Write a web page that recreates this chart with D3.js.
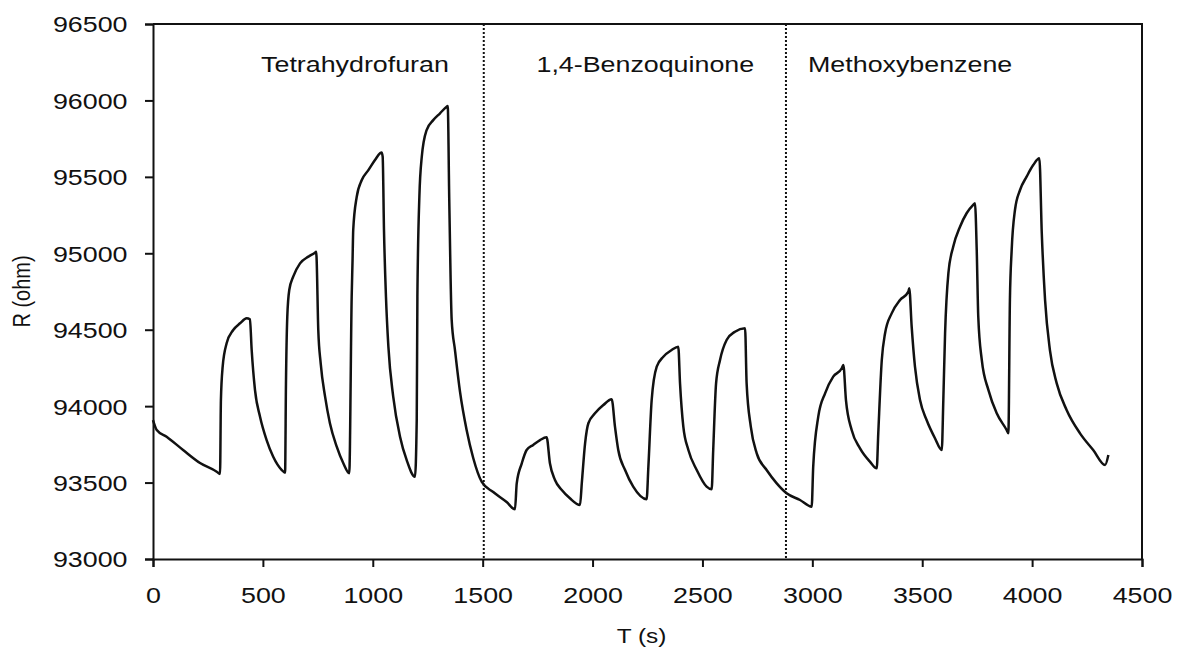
<!DOCTYPE html>
<html>
<head>
<meta charset="utf-8">
<script src="https://cdn.jsdelivr.net/npm/d3@7"></script>
<style>
  body { margin: 0; background: #fff; }
  text { font-family: "Liberation Sans", Arial, sans-serif; fill: #111; }
</style>
</head>
<body>
<svg id="chart" width="1177" height="649"></svg>
<script>
// Sensor response: resistance (ohm) against time (s)
const timeS = [
  0, 17, 62, 137, 214, 290, 305,
  309, 317, 335, 365, 396, 426, 441,
  449, 464, 487, 517, 547, 586, 601,
  605, 611, 620, 638, 669, 707, 737, 742,
  744, 752, 763, 783, 805, 836, 866, 893,
  904, 908, 911, 927, 950, 980, 1010, 1033, 1040,
  1045, 1051, 1060, 1071, 1093, 1124, 1154, 1192,
  1200, 1203, 1212, 1223, 1245, 1275, 1306, 1336, 1341,
  1348, 1359, 1374, 1397, 1427, 1457, 1496, 1548, 1609, 1647,
  1655, 1678, 1700, 1730, 1761, 1791,
  1806, 1829, 1860, 1897, 1943,
  1951, 1966, 1981, 2011, 2049, 2087,
  2102, 2117, 2148, 2185, 2246,
  2254, 2269, 2292, 2322, 2360, 2390,
  2398, 2413, 2436, 2474, 2519, 2542,
  2549, 2562, 2580, 2610, 2648, 2694,
  2701, 2720, 2747, 2792, 2838, 2883, 2944, 2997,
  3004, 3027, 3058, 3095, 3134, 3141,
  3153, 3179, 3217, 3262, 3293,
  3300, 3316, 3331, 3361, 3399, 3437, 3441,
  3452, 3467, 3490, 3520, 3558, 3589,
  3596, 3604, 3619, 3641, 3672, 3702, 3732, 3740,
  3748, 3755, 3771, 3801, 3839, 3884, 3892,
  3899, 3907, 3922, 3945, 3975, 4005, 4033,
  4044, 4059, 4081, 4112, 4157, 4218, 4278, 4332, 4347
];
const resistanceOhm = [
  93909, 93844, 93800, 93713, 93628, 93571, 93556,
  94040, 94258, 94411, 94498, 94542, 94575, 94568,
  94367, 94106, 93931, 93778, 93669, 93582, 93565,
  94149, 94585, 94760, 94847, 94934, 94978, 95004, 95010,
  94978, 94498, 94280, 94062, 93888, 93735, 93626, 93561,
  94716, 94956, 95152, 95370, 95479, 95544, 95610, 95654, 95660,
  95632, 95152, 94716, 94389, 94062, 93800, 93648, 93538,
  93909, 94716, 95370, 95632, 95806, 95871, 95916, 95959, 95964,
  95349, 94564, 94367, 94093, 93844, 93661, 93504, 93438, 93373, 93325,
  93495, 93626, 93713, 93746, 93778, 93796,
  93626, 93517, 93451, 93397, 93353,
  93495, 93757, 93888, 93953, 94007, 94045,
  93866, 93713, 93582, 93473, 93391,
  93604, 94040, 94258, 94323, 94367, 94389,
  94149, 93866, 93713, 93582, 93473, 93456,
  93713, 94149, 94302, 94433, 94487, 94509,
  94149, 93866, 93691, 93582, 93495, 93430, 93386, 93342,
  93604, 93931, 94084, 94193, 94248, 94269,
  94040, 93844, 93724, 93637, 93593,
  93822, 94302, 94477, 94607, 94694, 94749, 94771,
  94520, 94258, 94040, 93909, 93790, 93713,
  94040, 94477, 94869, 95043, 95174, 95262, 95316, 95327,
  95021, 94585, 94302, 94106, 93953, 93844, 93822,
  94694, 95021, 95283, 95414, 95501, 95577, 95621,
  95131, 94694, 94367, 94149, 93975, 93822, 93713, 93615, 93680
];

// Times at which the test vapour was switched
const switchTimes = [1505, 2880];
const analyteNames = ["Tetrahydrofuran", "1,4-Benzoquinone", "Methoxybenzene"];

const xTickValues = [0, 500, 1000, 1500, 2000, 2500, 3000, 3500, 4000, 4500];
const yTickValues = [93000, 93500, 94000, 94500, 95000, 95500, 96000, 96500];

const xTitle = "T (s)";
const yTitle = "R (ohm)";

// ---- layout ----
const plot = { left: 153, right: 1142, top: 24, bottom: 559 };
const stretch = 1.22;   // horizontal widening of all lettering
const fontPx = 22;

const svg = d3.select("#chart");

const x = d3.scaleLinear().domain([0, 4500]).range([plot.left, plot.right]);
const y = d3.scaleLinear().domain([93000, 96500]).range([plot.bottom, plot.top]);

// frame (top and right edges)
svg.append("path")
  .attr("d", `M${plot.left},${plot.top}H${plot.right}V${plot.bottom}`)
  .attr("fill", "none").attr("stroke", "#111").attr("stroke-width", 2);

// y axis
const yAxis = svg.append("g")
  .attr("transform", `translate(${plot.left},0)`)
  .call(d3.axisLeft(y).tickValues(yTickValues).tickSize(8).tickFormat(d3.format("d")));
yAxis.select(".domain").attr("stroke", "#111").attr("stroke-width", 2);
yAxis.selectAll(".tick line").attr("stroke", "#111").attr("stroke-width", 2);
yAxis.selectAll(".tick text")
  .attr("x", -25.5 / stretch)
  .attr("dy", "0.36em")
  .attr("transform", `scale(${stretch},1)`)
  .style("font-size", fontPx + "px")
  .style("font-family", "'Liberation Sans', Arial, sans-serif")
  .attr("fill", "#111");

// x axis
const xAxis = svg.append("g")
  .attr("transform", `translate(0,${plot.bottom})`)
  .call(d3.axisBottom(x).tickValues(xTickValues).tickSize(8).tickFormat(d3.format("d")));
xAxis.select(".domain").attr("stroke", "#111").attr("stroke-width", 2);
xAxis.selectAll(".tick line").attr("stroke", "#111").attr("stroke-width", 2);
xAxis.selectAll(".tick text")
  .attr("y", 44.5)
  .attr("dy", 0)
  .attr("transform", `scale(${stretch},1)`)
  .style("font-size", fontPx + "px")
  .style("font-family", "'Liberation Sans', Arial, sans-serif")
  .attr("fill", "#111");

// dotted separators between analytes
svg.append("g").selectAll("line")
  .data(switchTimes)
  .join("line")
  .attr("x1", d => x(d)).attr("x2", d => x(d))
  .attr("y1", plot.top).attr("y2", plot.bottom)
  .attr("stroke", "#111").attr("stroke-width", 2)
  .attr("stroke-dasharray", "2,2");

// response curve
const pts = timeS.map((t, i) => [t, resistanceOhm[i]]);
svg.append("path")
  .datum(pts)
  .attr("fill", "none")
  .attr("stroke", "#111")
  .attr("stroke-width", 2.5)
  .attr("stroke-linejoin", "round")
  .attr("d", d3.line().x(d => x(d[0])).y(d => y(d[1])).curve(d3.curveMonotoneX));

// analyte labels, centred in their time windows
const labelCenters = [919, 2240, 3445];
analyteNames.forEach((name, i) => {
  svg.append("text")
    .attr("transform", `translate(${x(labelCenters[i])},${71.5}) scale(${stretch},1)`)
    .attr("text-anchor", "middle")
    .style("font-size", fontPx + "px")
    .text(name);
});

// axis titles
svg.append("text")
  .attr("transform", `translate(${(plot.left + plot.right) / 2 - 6},${643}) scale(${stretch},1)`)
  .attr("text-anchor", "middle")
  .style("font-size", "20px")
  .text(xTitle);

svg.append("text")
  .attr("transform", `translate(${30},${(plot.top + plot.bottom) / 2}) rotate(-90) scale(1,${stretch})`)
  .attr("text-anchor", "middle")
  .style("font-size", "20px")
  .text(yTitle);
</script>
</body>
</html>
